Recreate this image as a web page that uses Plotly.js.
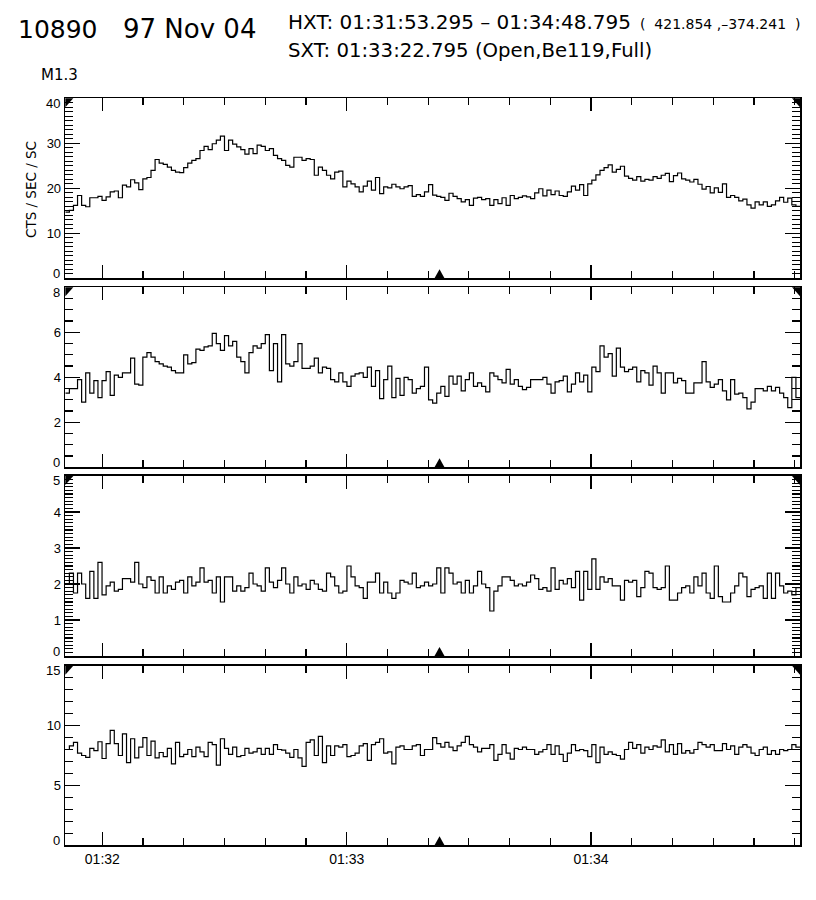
<!DOCTYPE html>
<html><head><meta charset="utf-8">
<script src="https://cdn.plot.ly/plotly-3.0.1.min.js"></script>
<style>html,body{margin:0;padding:0;background:#fff}</style>
</head><body><div id="chart" style="width:816px;height:900px"></div>
<script>
// ---- data ----
const obsDate = '1997-11-04';
const axisStart = '01:31:50.910';
const axisEnd = '01:34:51.310';
const sxtTime = '01:33:22.795';
const hxtStart = '01:31:53.295';
const hxtEnd = '01:34:48.795';
const flareClass = 'M1.3';
const arNumber = '10890';
const dateLabel = '97 Nov 04';
const position = ['421.854', '\u2013374.241'];
const sxtInfo = '(Open,Be119,Full)';
const yTitle = 'CTS / SEC / SC';

const ch1 = [
14.7,15.1,16.2,18.4,16.2,15.9,17.9,17.9,18.2,17.3,
18.1,19.2,19.4,17.9,20.7,20.3,21.9,21.2,19.7,22.1,
22.4,24.0,26.4,25.6,25.3,24.7,24.0,23.6,23.5,24.6,
25.6,26.2,26.6,28.4,29.3,28.6,29.9,30.7,31.6,28.4,
30.7,29.8,29.2,28.6,27.6,28.8,27.7,29.6,29.3,28.4,
28.8,27.3,26.6,26.2,25.1,
24.7,26.9,26.9,26.2,26.6,26.4,22.9,24.7,24.0,22.9,
22.1,23.6,23.8,20.3,21.6,21.0,20.3,19.2,20.5,21.6,
19.6,22.4,18.8,20.3,20.1,20.9,20.3,19.9,20.3,20.6,
18.2,18.6,18.2,19.2,20.8,18.5,18.2,18.0,17.3,18.9,
18.2,17.7,17.0,17.5,16.2,17.8,18.0,17.5,17.7,16.2,
17.5,16.6,17.9,16.2,18.4,17.7,18.0,18.3,18.1,17.7,
19.0,19.9,18.3,19.6,18.6,19.4,18.4,
18.2,19.2,20.5,19.6,20.8,18.4,21.0,21.8,23.0,24.0,
24.6,25.2,23.6,24.2,24.9,22.7,22.2,21.8,22.6,21.6,
22.0,21.8,22.6,22.2,22.9,23.3,21.5,22.8,23.4,22.1,
21.8,21.4,22.0,20.9,19.8,20.4,19.0,20.1,19.1,21.0,
18.0,18.4,18.0,17.2,17.6,16.3,15.6,17.0,16.3,17.0,
16.0,16.3,17.2,18.0,16.9,17.8,16.3,16.0];

const ch2 = [
3.3,3.5,3.5,3.9,2.9,4.2,3.3,3.85,3.1,3.85,
4.25,3.2,4.1,4.0,4.2,4.2,4.85,3.7,3.65,4.9,
5.1,4.9,4.7,4.6,4.5,4.45,4.3,4.2,4.2,5.0,
4.6,4.65,5.25,5.2,5.35,5.4,5.95,5.5,5.2,5.85,
5.4,5.6,4.9,4.7,4.2,5.1,5.4,5.3,5.5,5.9,
4.3,5.5,
3.8,5.9,4.6,4.5,4.7,5.5,4.4,4.4,4.5,4.85,
4.2,4.45,4.4,3.9,3.8,4.2,3.8,3.6,4.05,4.15,
4.2,4.0,4.45,3.6,4.3,3.05,3.9,4.5,3.1,3.95,
3.2,4.0,3.9,3.3,3.5,3.6,4.45,3.0,2.85,3.3,
3.6,3.15,4.05,3.7,4.05,3.4,3.9,4.2,3.6,3.75,
3.6,3.35,4.2,4.05,3.9,3.75,4.35,3.7,3.9,3.6,
3.45,3.55,3.9,3.9,3.9,4.0,3.7,3.3,3.8,3.85,
4.05,3.35,3.7,4.2,3.8,4.1,3.35,4.45,4.25,5.4,
4.9,5.05,4.05,5.3,4.45,4.25,4.35,4.45,3.8,4.3,
4.2,3.65,4.5,4.2,3.3,4.2,4.2,3.75,3.95,3.85,
3.3,3.3,3.75,3.75,4.7,3.8,3.55,3.7,3.9,3.4,
3.0,3.9,3.25,3.3,3.1,2.6,2.9,3.5,3.5,3.4,
3.6,3.4,3.55,3.3,3.1,2.65,4.0,3.1];

const ch3 = [
2.0,2.3,1.75,2.3,2.0,1.6,2.35,1.6,2.6,1.7,
1.95,2.05,1.8,1.85,2.15,2.15,2.05,2.6,2.0,1.9,
2.2,2.1,1.75,2.2,1.75,1.95,1.85,2.05,2.1,1.75,
2.2,1.95,2.05,2.45,2.05,2.1,1.75,2.2,1.5,2.2,
2.2,1.8,1.95,1.8,1.9,2.3,2.0,1.95,1.8,2.45,
2.05,1.9,2.1,2.45,2.0,1.75,2.2,1.95,
2.0,1.85,2.1,2.0,1.85,1.8,2.3,2.2,1.95,1.75,
1.8,2.5,2.2,1.95,1.9,1.6,2.05,2.05,2.3,1.75,
2.05,1.75,1.6,1.75,2.1,2.05,2.0,2.3,1.9,1.95,
2.05,1.95,2.0,2.45,1.75,2.45,2.3,2.0,2.05,1.75,
2.1,1.75,1.95,2.35,2.0,1.9,1.25,1.8,1.95,2.2,
2.2,2.1,1.95,2.0,1.95,2.05,2.25,2.15,1.85,1.9,
1.8,2.45,1.85,2.1,
2.0,2.15,1.9,2.35,1.55,2.35,1.85,2.7,1.85,2.2,
2.05,2.15,1.95,1.95,1.55,2.1,2.05,2.1,1.65,1.9,
2.35,2.3,1.9,1.85,1.9,2.5,1.55,1.55,1.75,1.9,
1.95,1.75,2.2,1.95,2.3,1.75,1.6,2.5,1.65,1.5,
1.5,1.75,1.95,2.3,2.2,1.65,1.85,1.9,1.95,1.6,
2.3,1.6,2.3,1.95,1.75,1.8,1.7,1.9];

const ch4 = [
8.0,8.3,8.6,7.7,7.5,7.35,8.1,7.9,8.65,7.25,
8.5,9.6,8.5,7.5,9.3,6.9,8.9,7.3,8.2,9.0,
7.5,8.7,7.3,7.75,7.4,8.1,6.8,8.6,7.4,7.6,
8.0,7.4,8.2,7.8,7.4,8.6,8.4,6.7,8.9,8.1,
7.6,8.2,7.4,7.5,8.1,7.7,7.8,8.1,7.6,8.1,
7.6,8.4,8.0,7.95,7.7,7.35,8.0,7.3,6.6,8.6,
8.8,7.5,9.1,6.9,8.3,7.5,8.3,8.2,8.4,7.4,
7.5,7.7,8.3,8.5,7.1,8.4,8.6,8.9,7.7,7.8,
6.8,8.2,8.3,8.0,
8.0,8.3,8.4,7.5,8.0,8.0,9.0,8.5,8.2,8.6,
8.2,7.9,8.3,8.6,9.1,8.4,8.2,7.8,8.1,8.1,
8.4,7.1,7.6,8.4,7.7,7.2,8.1,8.0,8.2,8.0,
8.0,7.6,7.8,8.0,8.4,7.6,8.3,7.6,7.0,7.7,
8.4,7.9,8.0,7.9,7.4,8.4,6.9,8.2,7.6,7.8,
7.6,7.5,7.2,8.0,8.6,8.1,8.4,7.7,8.2,8.0,
8.3,8.2,8.8,7.8,8.4,7.6,8.5,7.7,7.9,7.7,
8.0,8.6,8.4,8.2,8.4,7.9,7.9,8.5,8.0,8.3,
7.6,8.2,8.4,8.2,7.7,7.5,8.0,8.2,7.6,7.9,
7.6,8.0,7.9,8.0,8.4,8.2];

const channels = [ch1, ch2, ch3, ch4];
const yMax = [40, 8, 5, 15];
const yMajor = [10, 2, 1, 5];
const yMinor = [1, 0.5, 0.1, 1];

// ---- helpers ----
function toMs(hms) {
  const [h, m, s] = hms.split(':');
  const [Y, M, D] = obsDate.split('-').map(Number);
  return Date.UTC(Y, M - 1, D, +h, +m, 0) + Math.round(parseFloat(s) * 1000);
}
function msToStr(ms) {
  return new Date(ms).toISOString().replace('T', ' ').replace('Z', '');
}
const t0 = toMs(axisStart), t1 = toMs(axisEnd);

const TICKFONT = 'Liberation Sans, Arial, sans-serif';
const TEXTFONT = 'DejaVu Sans, Verdana, sans-serif';
const W = 816, H = 900;
const xDom = [65.3 / W, 800 / W];
const panelPx = [[98.3, 278.3], [287.3, 467.3], [476, 656], [665.7, 845.3]];

const data = [];
const layout = {
  width: W, height: H,
  margin: {l: 0, r: 0, t: 0, b: 0},
  paper_bgcolor: '#fff', plot_bgcolor: '#fff',
  showlegend: false,
  font: {family: TICKFONT, color: '#000'},
  shapes: [], annotations: []
};

channels.forEach((vals, k) => {
  const n = vals.length;
  const dt = (t1 - t0) / n;
  const xs = [], ys = [];
  for (let i = 0; i <= n; i++) {
    xs.push(msToStr(t0 + i * dt));
    ys.push(vals[Math.min(i, n - 1)]);
  }
  const xa = k === 0 ? 'x' : 'x' + (k + 1);
  const ya = k === 0 ? 'y' : 'y' + (k + 1);
  data.push({
    type: 'scatter', mode: 'lines', x: xs, y: ys,
    xaxis: xa, yaxis: ya,
    line: {shape: 'hv', color: '#000', width: 1.2},
    hoverinfo: 'skip'
  });
  const xKey = k === 0 ? 'xaxis' : 'xaxis' + (k + 1);
  const yKey = k === 0 ? 'yaxis' : 'yaxis' + (k + 1);
  const [top, bot] = panelPx[k];
  const alias = {};
  alias['0'] = '';
  alias[String(yMax[k])] = '';
  layout[yKey] = {
    domain: [1 - bot / H, 1 - top / H],
    anchor: xa,
    range: [0, yMax[k]],
    dtick: yMajor[k], tick0: 0,
    labelalias: alias,
    ticks: 'inside', ticklen: 15, tickwidth: 1.3, tickcolor: '#000',
    minor: {dtick: yMinor[k], ticks: 'inside', ticklen: 8, tickwidth: 1.2, tickcolor: '#000'},
    showline: true, linecolor: '#000', linewidth: 1.6, mirror: 'allticks',
    showgrid: false, zeroline: false,
    tickfont: {size: 13, family: TICKFONT, color: '#000'},
    fixedrange: true
  };
  // end labels of each y axis sit a little inside the frame, as in the reference
  [[0, 5], [yMax[k], -5]].forEach(([v, sh]) => {
    layout.annotations.push({
      text: String(v), xref: 'paper', yref: ya, x: 62 / W, y: v,
      xanchor: 'right', yanchor: 'middle', yshift: sh, showarrow: false,
      font: {size: 13, family: TICKFONT, color: '#000'}
    });
  });
  layout[xKey] = {
    domain: xDom,
    anchor: ya,
    type: 'date',
    range: [msToStr(t0), msToStr(t1)],
    tick0: obsDate + ' 01:32:00', dtick: 60000,
    tickformat: '%H:%M',
    ticks: 'inside', ticklen: 13, tickwidth: 1.3, tickcolor: '#000',
    minor: {dtick: 10000, ticks: 'inside', ticklen: 7, tickwidth: 1.2, tickcolor: '#000'},
    showline: true, linecolor: '#000', linewidth: 1.6, mirror: 'allticks',
    showgrid: false, zeroline: false,
    showticklabels: k === 3,
    tickfont: {size: 14, family: TICKFONT, color: '#000'},
    fixedrange: true
  };
  if (k > 0) layout[xKey].matches = 'x';

  // SXT time marker on the bottom axis
  layout.shapes.push({
    type: 'path', xref: xa, yref: ya,
    xsizemode: 'pixel', ysizemode: 'pixel',
    xanchor: obsDate + ' ' + sxtTime, yanchor: 0,
    path: 'M-5,0 L5,0 L0,9 Z',
    fillcolor: '#000', line: {width: 0}
  });
  // corner markers
  layout.shapes.push({
    type: 'path', xref: xa + ' domain', yref: ya + ' domain',
    xsizemode: 'pixel', ysizemode: 'pixel', xanchor: 0, yanchor: 1,
    path: 'M0,0 L8,0 L0,-9 Z', fillcolor: '#000', line: {width: 0}
  });
  layout.shapes.push({
    type: 'path', xref: xa + ' domain', yref: ya + ' domain',
    xsizemode: 'pixel', ysizemode: 'pixel', xanchor: 1, yanchor: 1,
    path: 'M0,0 L-8,0 L0,-9 Z', fillcolor: '#000', line: {width: 0}
  });
});

const nb = '\u00a0';
function ann(text, xpx, ypx, size, extra) {
  return Object.assign({
    text: text, xref: 'paper', yref: 'paper',
    x: xpx / W, y: 1 - ypx / H, xanchor: 'left', yanchor: 'middle',
    showarrow: false, font: {size: size, family: TEXTFONT, color: '#000'}
  }, extra || {});
}
layout.annotations.push(ann(arNumber, 16, 29, 25));
layout.annotations.push(ann(dateLabel, 121, 29, 26));
layout.annotations.push(ann('HXT: ' + hxtStart + ' \u2013 ' + hxtEnd, 286, 22, 20));
layout.annotations.push(ann('(' + nb + nb + position[0] + nb + ',' + position[1] + nb + nb + ')', 638, 24, 14));
layout.annotations.push(ann('SXT: ' + sxtTime + ' ' + sxtInfo, 286, 50, 19.7));
layout.annotations.push(ann(flareClass, 39, 75, 15));
layout.annotations.push(ann(yTitle, 31, 189, 13.5, {xanchor: 'center', textangle: -90}));

Plotly.newPlot('chart', data, layout, {staticPlot: true, displayModeBar: false});
</script>
</body></html>
